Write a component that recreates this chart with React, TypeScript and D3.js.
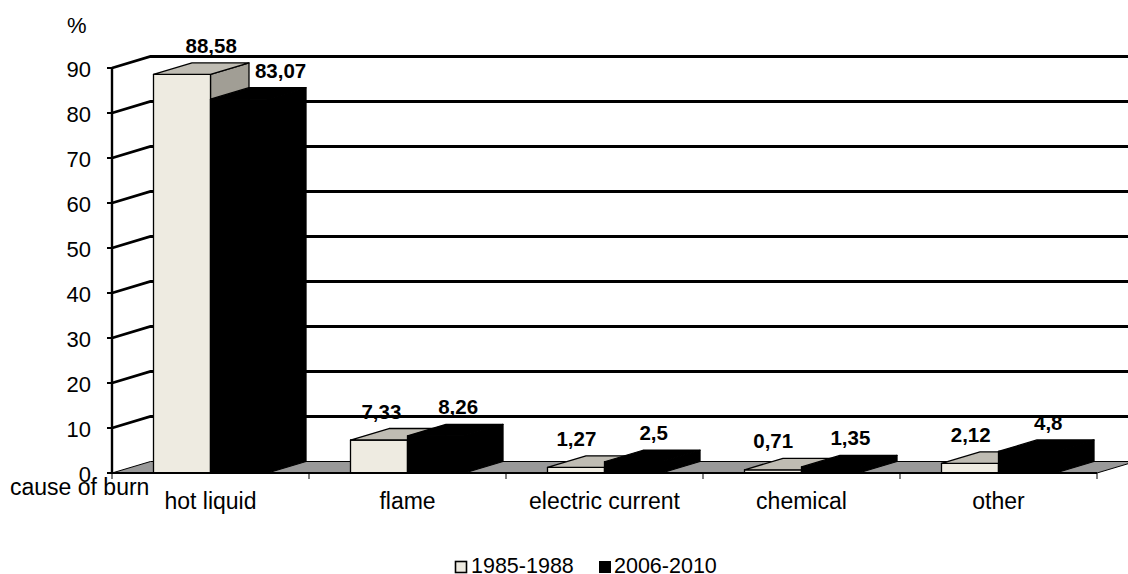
import React from "react";
import * as d3 from "d3";

const categories = ["hot liquid", "flame", "electric current", "chemical", "other"];
const series1985 = [88.58, 7.33, 1.27, 0.71, 2.12];
const series2006 = [83.07, 8.26, 2.5, 1.35, 4.8];
const seriesNames = ["1985-1988", "2006-2010"];
const yTicks = [0, 10, 20, 30, 40, 50, 60, 70, 80, 90];
const yAxisTitle = "%";
const xAxisTitle = "cause of burn";

const W = 1128;
const H = 574;
const DX = 38.5;
const DY = -11.5;
const FONT = "'Liberation Sans', Arial, sans-serif";

const faceColors = [
  { front: "#EEEBE1", top: "#BFBCB3", side: "#A19E95" },
  { front: "#000000", top: "#000000", side: "#000000" },
];

export default function App() {
  const y = d3.scaleLinear().domain([0, 90]).range([473, 68]);
  const x = d3.scaleBand<string>().domain(categories).range([112, 1097]);
  const bw = x.bandwidth();
  const barW = 57;
  const inset = (bw - 2 * barW) / 2;
  const x0 = 112;
  const x1 = 1097;
  const y0 = y(0);
  const series = [series1985, series2006];

  const fmt = (v: number) => String(v).replace(".", ",");

  const bars: React.ReactNode[] = [];
  const labels: React.ReactNode[] = [];
  categories.forEach((c, ci) => {
    series.forEach((s, si) => {
      const v = s[ci];
      const bx = (x(c) as number) + inset + si * barW;
      const bxr = bx + barW;
      const yt = y(v);
      const col = faceColors[si];
      const front = `M${bx},${y0}L${bx},${yt}L${bxr},${yt}L${bxr},${y0}Z`;
      const top = `M${bx},${yt}L${bx + DX},${yt + DY}L${bxr + DX},${yt + DY}L${bxr},${yt}Z`;
      const side = `M${bxr},${yt}L${bxr + DX},${yt + DY}L${bxr + DX},${y0 + DY}L${bxr},${y0}Z`;
      bars.push(
        <g key={`b${ci}-${si}`} stroke="#000" strokeWidth={1.3} strokeLinejoin="round">
          <path d={side} fill={col.side} />
          <path d={front} fill={col.front} />
          <path d={top} fill={col.top} />
        </g>
      );
      const cx = bx + barW / 2;
      const off = si === 0 ? 0.33 * v : 20 + 0.26 * v;
      labels.push(
        <text
          key={`l${ci}-${si}`}
          x={cx + off}
          y={yt + DY - 10}
          textAnchor="middle"
          fontFamily={FONT}
          fontWeight="bold"
          fontSize={20.5}
          fill="#000"
        >
          {fmt(v)}
        </text>
      );
    });
  });

  return (
    <svg
      width={W}
      height={H}
      style={{ position: "absolute", left: 0, top: 0, background: "#fff" }}
    >
      <rect x={0} y={0} width={W} height={H} fill="#fff" />
      {/* floor */}
      <path
        d={`M${x0},${y0}L${x1},${y0}L${x1 + DX},${y0 + DY}L${x0 + DX},${y0 + DY}Z`}
        fill="#999999"
        stroke="#000"
        strokeWidth={1}
      />
      {/* gridlines: side wall + back wall */}
      {yTicks
        .filter((t) => t > 0)
        .map((t) => (
          <path
            key={`g${t}`}
            d={`M${x0},${y(t)}L${x0 + DX},${y(t) + DY}L${W + 10},${y(t) + DY}`}
            fill="none"
            stroke="#000"
            strokeWidth={2.8}
          />
        ))}
      {/* bars */}
      {bars}
      {/* front floor edge */}
      <line x1={x0} x2={x1} y1={y0} y2={y0} stroke="#000" strokeWidth={2.2} />
      {/* category ticks */}
      {[...categories.map((c) => x(c) as number), x1].map((tx, i) => (
        <line key={`xt${i}`} x1={tx} x2={tx} y1={y0} y2={y0 + 6} stroke="#000" strokeWidth={1} />
      ))}
      {/* y axis */}
      <line x1={x0} x2={x0} y1={y(90)} y2={y0} stroke="#000" strokeWidth={2.4} />
      {yTicks.map((t) => (
        <g key={`yt${t}`}>
          <line x1={x0 - 5} x2={x0} y1={y(t)} y2={y(t)} stroke="#000" strokeWidth={2} />
          <text
            x={91}
            y={y(t) + 8.5}
            textAnchor="end"
            fontFamily={FONT}
            fontSize={22}
            fill="#000"
          >
            {t}
          </text>
        </g>
      ))}
      {/* value labels */}
      {labels}
      {/* titles */}
      <text x={67} y={33} fontFamily={FONT} fontSize={22} fill="#000">
        {yAxisTitle}
      </text>
      <text x={10} y={495} fontFamily={FONT} fontSize={23} fill="#000">
        {xAxisTitle}
      </text>
      {categories.map((c) => (
        <text
          key={`c${c}`}
          x={(x(c) as number) + bw / 2}
          y={509}
          textAnchor="middle"
          fontFamily={FONT}
          fontSize={23}
          fill="#000"
        >
          {c}
        </text>
      ))}
      {/* legend */}
      <g fontFamily={FONT} fontSize={21.5} fill="#000">
        <rect x={455.5} y={561.5} width={11} height={11} fill={faceColors[0].front} stroke="#000" strokeWidth={1.6} />
        <text x={471} y={573}>{seriesNames[0]}</text>
        <rect x={599} y={561} width={12} height={12} fill="#000" />
        <text x={614} y={573}>{seriesNames[1]}</text>
      </g>
    </svg>
  );
}
